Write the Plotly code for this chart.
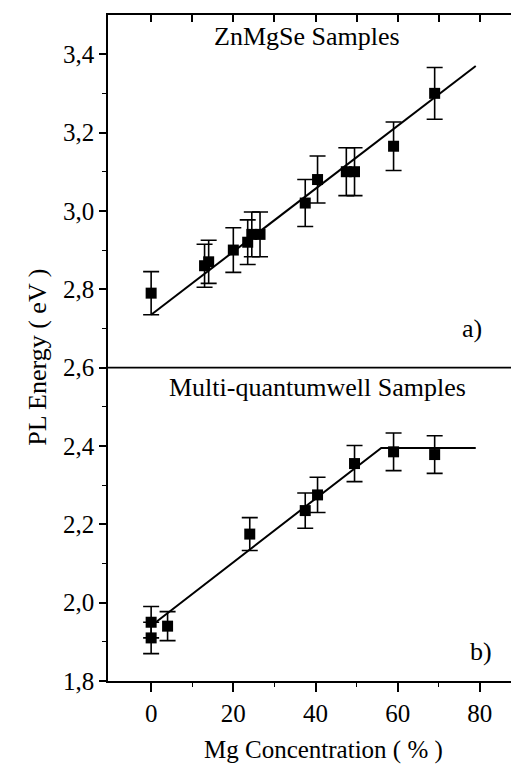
import plotly.graph_objects as go

# ---- data ----
# panel a) ZnMgSe samples
mg_a = [0, 13, 14, 20, 23.5, 24.5, 26.5, 37.5, 40.5, 47.5, 49.5, 59, 69]
pl_a = [2.79, 2.86, 2.87, 2.90, 2.92, 2.94, 2.94, 3.02, 3.08, 3.10, 3.10, 3.165, 3.30]
err_a = [0.055, 0.055, 0.055, 0.057, 0.057, 0.057, 0.057, 0.06, 0.06, 0.061, 0.061, 0.062, 0.066]
fit_a_x = [0, 79]
fit_a_y = [2.735, 3.37]

# panel b) multi-quantumwell samples
mg_b = [0, 0, 4, 24, 37.5, 40.5, 49.5, 59, 69]
pl_b = [1.95, 1.91, 1.94, 2.175, 2.235, 2.275, 2.355, 2.385, 2.378]
err_b = [0.04, 0.04, 0.037, 0.042, 0.045, 0.045, 0.046, 0.048, 0.048]
fit_b_x = [0.5, 56, 79]
fit_b_y = [1.945, 2.395, 2.395]

y_tickvals = [1.8, 2.0, 2.2, 2.4, 2.6, 2.8, 3.0, 3.2, 3.4]
y_ticktext = ["1,8", "2,0", "2,2", "2,4", "2,6", "2,8", "3,0", "3,2", "3,4"]
y_minorvals = [1.9, 2.1, 2.3, 2.5, 2.7, 2.9, 3.1, 3.3]
x_tickvals = [0, 20, 40, 60, 80]
x_minorvals = [10, 30, 50, 70]
x_range = [-10.5, 90.5]
y_range = [1.8, 3.5]

FONT = "Liberation Serif"
BLACK = "black"

fig = go.Figure()

for xs, ys, es in [(mg_a, pl_a, err_a), (mg_b, pl_b, err_b)]:
    fig.add_trace(go.Scatter(
        x=xs, y=ys, mode="markers",
        marker=dict(symbol="square", size=11, color=BLACK),
        error_y=dict(type="data", array=es, visible=True, color=BLACK,
                     thickness=1.6, width=8),
        showlegend=False, cliponaxis=False))

for fx, fy in [(fit_a_x, fit_a_y), (fit_b_x, fit_b_y)]:
    fig.add_trace(go.Scatter(x=fx, y=fy, mode="lines",
                             line=dict(color=BLACK, width=2),
                             showlegend=False))

# invisible trace for the top (inside-tick) axis
fig.add_trace(go.Scatter(x=[x_range[0]], y=[y_range[0]], xaxis="x2",
                         mode="markers", marker=dict(opacity=0),
                         showlegend=False, hoverinfo="skip"))

# separator line between the panels at 2,6
fig.add_shape(type="line", xref="paper", yref="y", x0=0, x1=1, y0=2.6, y1=2.6,
              line=dict(color=BLACK, width=1.6))

tickfont = dict(family=FONT, size=25, color=BLACK)

fig.update_layout(
    width=519, height=764,
    margin=dict(l=100, r=2, t=7, b=91),
    paper_bgcolor="white", plot_bgcolor="white",
    font=dict(family=FONT, color=BLACK),
    xaxis=dict(range=x_range, tickvals=x_tickvals, ticks="outside", ticklen=9,
               tickwidth=1.6, tickcolor=BLACK, showline=True, linecolor=BLACK,
               linewidth=1.6, mirror=True, showgrid=False, zeroline=False,
               tickfont=tickfont,
               minor=dict(tickvals=x_minorvals, ticks="outside", ticklen=4,
                          tickwidth=1.4, tickcolor=BLACK, showgrid=False)),
    xaxis2=dict(range=x_range, overlaying="x", side="top", anchor="y",
                tickvals=x_tickvals + x_minorvals, ticks="inside", ticklen=7,
                tickwidth=1.6, tickcolor=BLACK, showticklabels=False,
                showgrid=False, zeroline=False, showline=False),
    yaxis=dict(range=y_range, tickvals=y_tickvals, ticktext=y_ticktext,
               ticks="outside", ticklen=7, tickwidth=1.6, tickcolor=BLACK,
               showline=True, linecolor=BLACK, linewidth=1.6, mirror=True,
               showgrid=False, zeroline=False, tickfont=tickfont,
               minor=dict(tickvals=y_minorvals, ticks="outside", ticklen=4,
                          tickwidth=1.4, tickcolor=BLACK, showgrid=False)),
)

ann_font = dict(family=FONT, size=26, color=BLACK)
fig.add_annotation(x=38.0, y=3.445, xref="x", yref="y", text="ZnMgSe Samples",
                   showarrow=False, font=ann_font, xanchor="center", yanchor="middle")
fig.add_annotation(x=40.5, y=2.55, xref="x", yref="y", text="Multi-quantumwell Samples",
                   showarrow=False, font=ann_font, xanchor="center", yanchor="middle")
fig.add_annotation(x=81.0, y=2.70, xref="x", yref="y", text="a)",
                   showarrow=False, font=ann_font, xanchor="right", yanchor="middle")
fig.add_annotation(x=83.5, y=1.875, xref="x", yref="y", text="b)",
                   showarrow=False, font=ann_font, xanchor="right", yanchor="middle")
fig.add_annotation(x=0.52, y=-0.104, xref="paper", yref="paper",
                   text="Mg Concentration ( % )", showarrow=False,
                   font=dict(family=FONT, size=25, color=BLACK),
                   xanchor="center", yanchor="middle")
fig.add_annotation(x=-0.170, y=0.486, xref="paper", yref="paper",
                   text="PL Energy ( eV )", showarrow=False, font=ann_font,
                   textangle=-90, xanchor="center", yanchor="middle")

fig.write_html("out.html")
